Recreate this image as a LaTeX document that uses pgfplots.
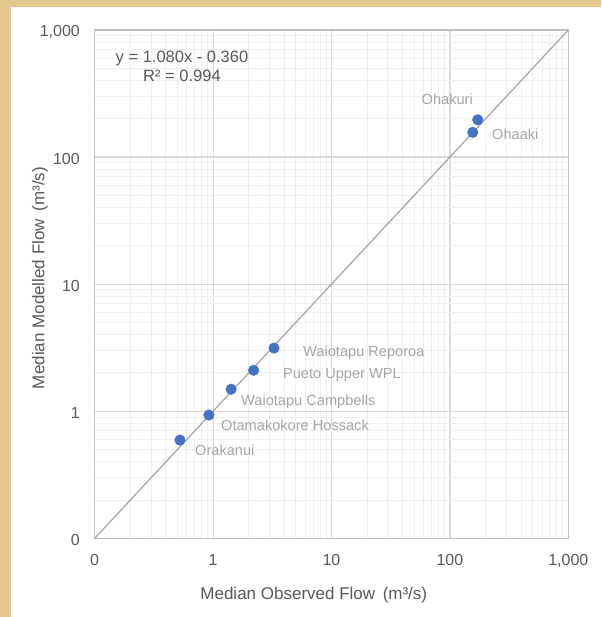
\documentclass[border=0pt]{standalone}
\usepackage{fontspec}
\setmainfont{Liberation Sans}
\usepackage{pgfplots}
\pgfplotsset{compat=1.18}
\definecolor{bgY}{HTML}{E4C78B}
\definecolor{gridMaj}{HTML}{D9D9D9}
\definecolor{gridMin}{HTML}{EFEFEF}
\definecolor{frameC}{HTML}{BFBFBF}
\definecolor{tickC}{HTML}{595959}
\definecolor{lineC}{HTML}{A5A5A5}
\definecolor{markC}{HTML}{4472C4}
\definecolor{labC}{HTML}{A6A6A6}
\begin{document}
\begin{tikzpicture}[x=1pt,y=1pt]
\fill[bgY] (0,0) rectangle (601,617);
\fill[white] (11,0) rectangle (601,610);
\begin{axis}[
  at={(94.7pt,78.7pt)}, anchor=south west,
  scale only axis, width=473.6pt, height=508.3pt,
  xmode=log, ymode=log,
  xmin=0.1, xmax=1000, ymin=0.1, ymax=1000,
  xtick={0.1,1,10,100,1000}, xticklabels={0,1,10,100,{1,000}},
  ytick={0.1,1,10,100,1000}, yticklabels={0,1,10,100,{1,000}},
  minor xtick={0.2,0.3,0.4,0.5,0.6,0.7,0.8,0.9,2,3,4,5,6,7,8,9,20,30,40,50,60,70,80,90,200,300,400,500,600,700,800,900},
  minor ytick={0.2,0.3,0.4,0.5,0.6,0.7,0.8,0.9,2,3,4,5,6,7,8,9,20,30,40,50,60,70,80,90,200,300,400,500,600,700,800,900},
  grid=both,
  major grid style={draw=gridMaj, line width=1.2pt},
  minor grid style={draw=gridMin, line width=1pt},
  axis line style={draw=frameC, line width=1.3pt},
  major tick length=0pt, minor tick length=0pt,
  tick style={draw=none},
  /pgf/number format/assume math mode=true,
  tick label style={font=\fontsize{16}{19}\selectfont, text=tickC, inner sep=0pt},
  xticklabel style={anchor=center, yshift=-21.7pt, text height=11.5pt, text depth=0pt},
  yticklabel style={anchor=east, xshift=-14.7pt, yshift=-1.5pt},
  xlabel={Median Observed Flow\, (m³/s)},
  ylabel={Median Modelled Flow\, (m³/s)},
  label style={font=\fontsize{17}{20}\selectfont, text=tickC},
  xlabel style={at={(axis description cs:0.4626,-0.1115)}, anchor=center},
  ylabel style={at={(axis description cs:-0.1155,0.512)}, anchor=center},
]
\addplot[draw=lineC, line width=1.2pt] coordinates {(0.1,0.1) (1000,1000)};
\addplot[only marks, mark=*, mark size=5.3pt, mark options={fill=markC, draw=markC}] table {
x y
0.525 0.593
0.922 0.933
1.42 1.49
2.20 2.10
3.27 3.14
171.8 196.6
155.9 156.4
};
\begin{scope}[every node/.style={font=\fontsize{14.6}{17}\selectfont, text=labC, inner sep=0pt, text height=10.5pt, text depth=0pt}]
\node[anchor=west] at (axis cs:0.703,0.496) {Orakanui};
\node[anchor=west] at (axis cs:1.166,0.778) {Otamakokore Hossack};
\node[anchor=west] at (axis cs:1.72,1.225) {Waiotapu Campbells};
\node[anchor=west] at (axis cs:3.89,2.0) {Pueto Upper WPL};
\node[anchor=west] at (axis cs:5.75,2.98) {Waiotapu Reporoa};
\node[anchor=east] at (axis cs:156.7,286) {Ohakuri};
\node[anchor=west] at (axis cs:226.8,151.7) {Ohaaki};
\end{scope}
\node[align=center, font=\fontsize{16.5}{19}\selectfont, text=tickC, inner sep=0pt] at (axis description cs:0.1843,0.928) {y = 1.080x - 0.360\\R² = 0.994};
\end{axis}
\end{tikzpicture}
\end{document}
